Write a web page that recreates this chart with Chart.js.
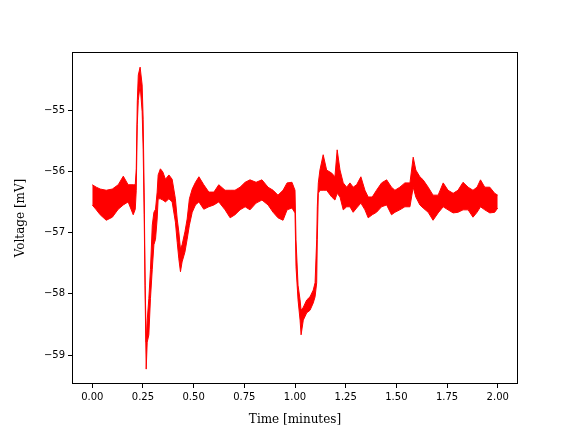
<!DOCTYPE html>
<html>
<head>
<meta charset="utf-8">
<script src="https://cdn.jsdelivr.net/npm/chart.js@4/dist/chart.umd.min.js"></script>
<style>
  html, body { margin: 0; padding: 0; background: #fff; }
</style>
</head>
<body>
<canvas id="voltChart" width="576" height="432"></canvas>
<script>
// time in minutes, with the upper and lower edge of the noisy trace (mV)
var time = [0.000, 0.020, 0.039, 0.069, 0.099, 0.128, 0.153, 0.177, 0.202, 0.212,
    0.217, 0.222, 0.227, 0.236, 0.246, 0.251, 0.256, 0.261, 0.266, 0.271,
    0.279, 0.287, 0.296, 0.304, 0.312, 0.320, 0.325, 0.336, 0.348, 0.361,
    0.378, 0.394, 0.410, 0.419, 0.427, 0.435, 0.443, 0.457, 0.468, 0.479,
    0.493, 0.509, 0.526, 0.550, 0.575, 0.600, 0.624, 0.655, 0.680, 0.704,
    0.729, 0.754, 0.778, 0.808, 0.837, 0.867, 0.892, 0.916, 0.941, 0.961,
    0.985, 1.000, 1.005, 1.015, 1.025, 1.030, 1.041, 1.058, 1.074, 1.090,
    1.099, 1.107, 1.110, 1.115, 1.123, 1.139, 1.156, 1.181, 1.197, 1.208,
    1.222, 1.238, 1.255, 1.271, 1.287, 1.304, 1.325, 1.345, 1.361, 1.381,
    1.402, 1.427, 1.452, 1.476, 1.493, 1.517, 1.542, 1.567, 1.583, 1.596,
    1.616, 1.632, 1.657, 1.681, 1.706, 1.731, 1.755, 1.780, 1.804, 1.829,
    1.854, 1.878, 1.898, 1.915, 1.936, 1.961, 1.985, 2.000];

var voltHigh = [-56.22, -56.26, -56.29, -56.31, -56.29, -56.22, -56.08, -56.22, -56.22, -56.22,
    -55.96, -54.87, -54.43, -54.30, -54.59, -55.15, -56.34, -57.86, -58.79, -58.43,
    -58.08, -57.60, -56.88, -56.67, -56.62, -56.34, -56.06, -55.96, -56.01, -56.13,
    -56.06, -56.13, -56.45, -56.78, -56.99, -57.27, -57.20, -56.99, -56.78, -56.45,
    -56.29, -56.18, -56.09, -56.22, -56.34, -56.34, -56.22, -56.31, -56.31, -56.31,
    -56.26, -56.18, -56.14, -56.18, -56.14, -56.26, -56.31, -56.39, -56.31, -56.19,
    -56.18, -56.31, -57.12, -57.86, -58.10, -58.27, -58.22, -58.10, -58.05, -57.94,
    -57.82, -57.12, -56.58, -56.19, -55.98, -55.73, -55.98, -56.03, -56.09, -55.65,
    -55.98, -56.19, -56.26, -56.19, -56.26, -56.22, -56.09, -56.31, -56.42, -56.42,
    -56.31, -56.19, -56.14, -56.26, -56.31, -56.26, -56.19, -56.19, -55.77, -55.98,
    -56.09, -56.14, -56.26, -56.39, -56.39, -56.19, -56.31, -56.36, -56.31, -56.18,
    -56.26, -56.31, -56.26, -56.14, -56.26, -56.26, -56.36, -56.39];

var voltLow = [-56.55, -56.63, -56.71, -56.80, -56.75, -56.62, -56.55, -56.50, -56.71, -56.62,
    -56.31, -55.24, -54.84, -54.59, -55.03, -55.65, -56.71, -58.10, -59.23, -58.79,
    -58.67, -58.08, -57.60, -57.20, -57.11, -56.78, -56.45, -56.45, -56.47, -56.50,
    -56.45, -56.50, -56.83, -57.16, -57.43, -57.64, -57.48, -57.32, -57.11, -56.88,
    -56.67, -56.55, -56.50, -56.62, -56.58, -56.55, -56.50, -56.63, -56.76, -56.71,
    -56.63, -56.58, -56.63, -56.52, -56.47, -56.55, -56.67, -56.76, -56.80, -56.63,
    -56.60, -56.68, -57.56, -58.10, -58.43, -58.67, -58.43, -58.31, -58.27, -58.15,
    -58.05, -57.82, -57.12, -56.36, -56.31, -56.31, -56.31, -56.42, -56.47, -56.36,
    -56.42, -56.63, -56.58, -56.58, -56.67, -56.60, -56.52, -56.63, -56.76, -56.71,
    -56.67, -56.58, -56.55, -56.71, -56.67, -56.63, -56.58, -56.58, -56.26, -56.42,
    -56.55, -56.60, -56.67, -56.80, -56.68, -56.58, -56.63, -56.68, -56.67, -56.63,
    -56.63, -56.75, -56.67, -56.58, -56.63, -56.68, -56.67, -56.60];

var xTicks = [0, 0.25, 0.5, 0.75, 1, 1.25, 1.5, 1.75, 2];
var yTicks = [-59, -58, -57, -56, -55];

var tickFont = { family: 'DejaVu Sans', size: 10 };
var labelFont = { family: 'DejaVu Serif', size: 12 };

// matplotlib style full box round the plot
var boxPlugin = {
    id: 'box',
    afterDraw: function(chart) {
        var a = chart.chartArea;
        var c = chart.ctx;
        c.save();
        c.strokeStyle = '#000';
        c.lineWidth = 1;
        c.strokeRect(Math.round(a.left) + 0.5, Math.round(a.top) + 0.5,
            Math.round(a.right - a.left) - 1, Math.round(a.bottom - a.top) - 1);
        c.restore();
    }
};

var highPts = time.map(function(t, i) { return { x: t, y: voltHigh[i] }; });
var lowPts = time.map(function(t, i) { return { x: t, y: voltLow[i] }; });

var ctx = document.getElementById('voltChart').getContext('2d');

var voltChart = new Chart(ctx, {
    type: 'line',
    data: {
        datasets: [{
            data: highPts,
            borderColor: 'red',
            backgroundColor: 'red',
            borderWidth: 1,
            pointRadius: 0,
            tension: 0,
            fill: '+1'
        }, {
            data: lowPts,
            borderColor: 'red',
            borderWidth: 1,
            pointRadius: 0,
            tension: 0,
            fill: false
        }]
    },
    options: {
        responsive: false,
        animation: false,
        layout: { padding: { left: 0, right: 58, top: 52, bottom: 0 } },
        plugins: {
            legend: { display: false },
            tooltip: { enabled: false }
        },
        scales: {
            x: {
                type: 'linear',
                min: -0.1,
                max: 2.1,
                afterFit: function(scale) { scale.height = 48; },
                afterBuildTicks: function(scale) {
                    scale.ticks = xTicks.map(function(v) { return { value: v }; });
                },
                grid: { display: true, drawOnChartArea: false, color: '#000', tickLength: 4 },
                border: { display: false },
                ticks: {
                    color: '#000',
                    font: tickFont,
                    padding: 3,
                    maxRotation: 0,
                    callback: function(v) { return Number(v).toFixed(2); }
                },
                title: {
                    display: true,
                    text: 'Time [minutes]',
                    color: '#000',
                    font: labelFont,
                    padding: { top: 0, bottom: 5 }
                }
            },
            y: {
                type: 'linear',
                min: -59.473,
                max: -54.053,
                afterFit: function(scale) { scale.width = 72; },
                afterBuildTicks: function(scale) {
                    scale.ticks = yTicks.map(function(v) { return { value: v }; });
                },
                grid: { display: true, drawOnChartArea: false, color: '#000', tickLength: 4 },
                border: { display: false },
                ticks: {
                    color: '#000',
                    font: tickFont,
                    padding: 3,
                    callback: function(v) { return (v < 0 ? '\u2212' : '') + Math.abs(v); }
                },
                title: {
                    display: true,
                    text: 'Voltage [mV]',
                    color: '#000',
                    font: labelFont,
                    padding: { top: 14, bottom: 4 }
                }
            }
        }
    },
    plugins: [boxPlugin]
});
</script>
</body>
</html>
